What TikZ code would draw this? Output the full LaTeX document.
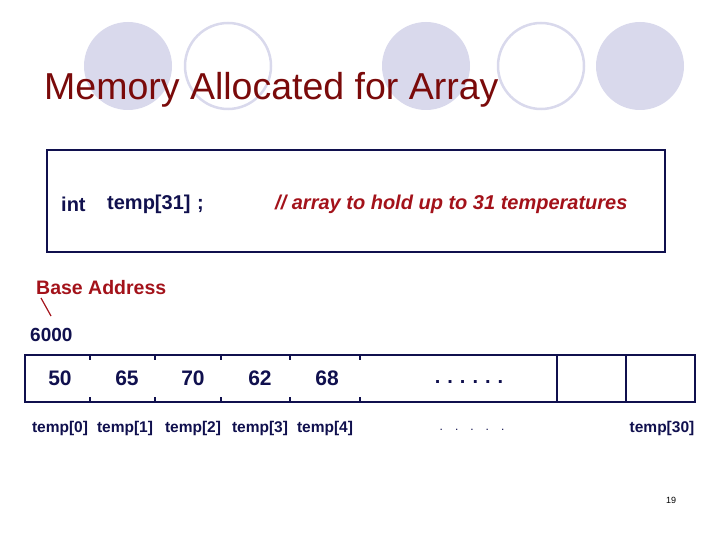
\documentclass[tikz,border=0pt]{standalone}
\usepackage{fontspec}
\setmainfont{Liberation Sans}
\usetikzlibrary{positioning}
\definecolor{navy}{HTML}{10104E}
\definecolor{titlered}{HTML}{7A0A0A}
\definecolor{notered}{HTML}{A3121A}
\definecolor{lilac}{HTML}{D9D9EC}

\begin{document}
\begin{tikzpicture}[x=1pt, y=-1pt,
  blob/.style={fill=lilac},
  ring/.style={draw=lilac, line width=2.5pt},
  code/.style={font=\fontsize{20}{24}\selectfont\bfseries, text=navy, inner sep=0pt},
  val/.style={font=\fontsize{21}{24}\selectfont\bfseries, text=navy, inner sep=0pt},
  idx/.style={font=\fontsize{15.5}{18}\selectfont\bfseries, text=navy, inner sep=0pt},
  frame/.style={draw=navy, line width=1.6pt}
]
\useasboundingbox (0,0) rectangle (720,540);

% BACKGROUND CIRCLES
\fill[blob] (128,66) circle[radius=44pt];
\draw[ring] (228,66) circle[radius=43pt];
\fill[blob] (426,66) circle[radius=44pt];
\draw[ring] (541,66) circle[radius=43pt];
\fill[blob] (640,66) circle[radius=44pt];

% TITLE
\node[anchor=base west, inner sep=0pt, text=titlered, font=\fontsize{37.5}{42}\selectfont] (title) at (44,100) {Memory Allocated for Array};

% DECLARATION BOX
\node[frame, minimum width=618pt, minimum height=102pt] (decl) at (356,201) {};
\node[code, anchor=west] (kw) at (61,204) {int};
\node[code, anchor=west] (var) at (107,204) {temp[31]\,\,;};
\node[code, anchor=west, text=notered, font=\fontsize{20}{24}\selectfont\bfseries\itshape] (note) at (275,204) {// array to hold up to 31 temperatures};

% BASE ADDRESS
\node[anchor=west, inner sep=0pt, text=notered, font=\fontsize{19.5}{22}\selectfont\bfseries] (base) at (36,288) {Base Address};
\node[code, anchor=west, font=\fontsize{19}{22}\selectfont\bfseries] (addr) at (30,335) {6000};
\coordinate (slashtop) at (41,298);
\coordinate (slashbot) at (51,316);
\draw[notered, line width=1.2pt] (slashtop) -- (slashbot);

% ARRAY
\node[frame, minimum width=670pt, minimum height=47pt] (arr) at (360,378.5) {};
\foreach \xx in {90,155,221,290,360} {
  \draw[navy, line width=1.6pt] (\xx,355) -- (\xx,360);
  \draw[navy, line width=1.6pt] (\xx,397) -- (\xx,402);
}
\draw[navy, line width=1.6pt] (557,355) -- (557,402);
\draw[navy, line width=1.6pt] (626,355) -- (626,402);

\node[val] (v0) at (60,378) {50};
\node[val] (v1) at (127,378) {65};
\node[val] (v2) at (193,378) {70};
\node[val] (v3) at (260,378) {62};
\node[val] (v4) at (327,378) {68};
\node[val, font=\fontsize{20}{22}\selectfont\bfseries] (vdots) at (469,382) {.\hspace{7pt}.\hspace{7pt}.\hspace{7pt}.\hspace{7pt}.\hspace{7pt}.};

% INDEX LABELS
\node[idx] (t0) at (60,428) {temp[0]};
\node[idx] (t1) at (125,428) {temp[1]};
\node[idx] (t2) at (193,428) {temp[2]};
\node[idx] (t3) at (260,428) {temp[3]};
\node[idx] (t4) at (325,428) {temp[4]};
\node[idx, font=\fontsize{12}{14}\selectfont] (tdots) at (472,430) {.\quad.\quad.\quad.\quad.};
\node[idx] (t30) at (662,428) {temp[30]};

% PAGE NUMBER
\node[inner sep=0pt, font=\fontsize{9}{11}\selectfont] (page) at (671,500) {19};
\end{tikzpicture}
\end{document}
